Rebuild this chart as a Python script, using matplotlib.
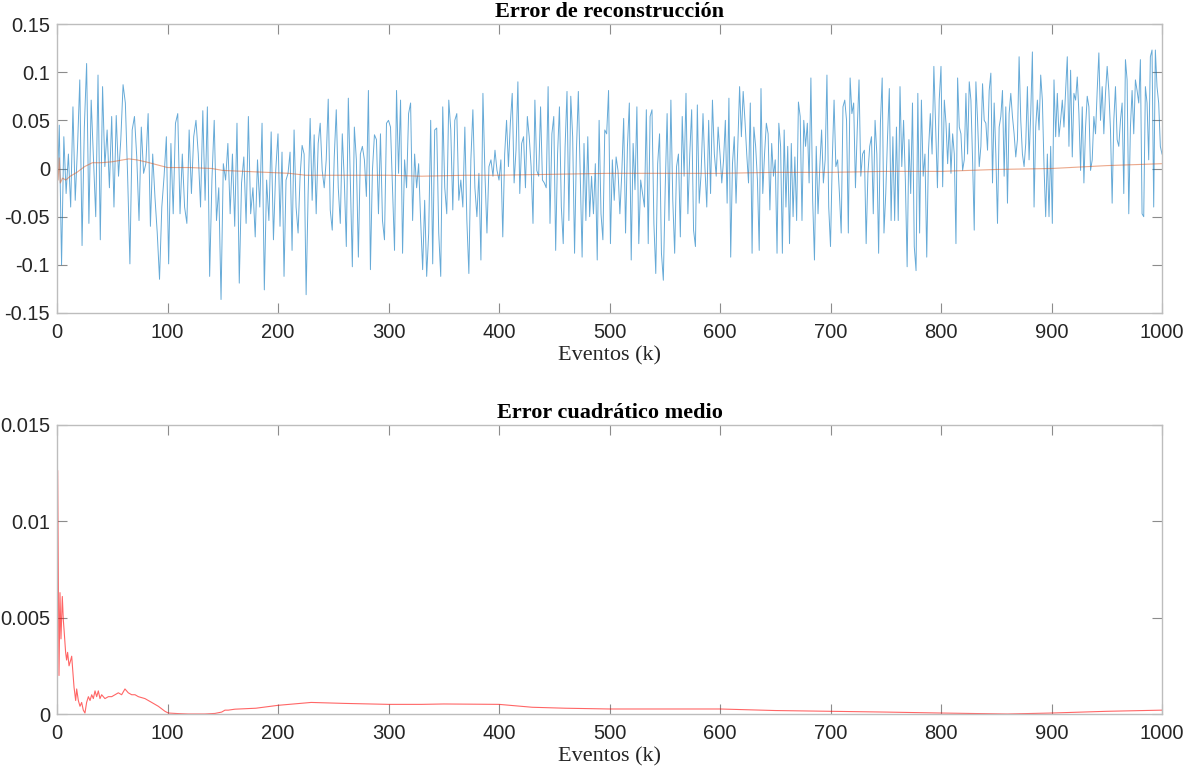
import numpy as np
import matplotlib
matplotlib.use("Agg")
import matplotlib.pyplot as plt

# ---------------- data ----------------
# reconstruction error, read in 200-event segments
err_0_200 = [-0.03, 0.045, -0.1, 0.033, -0.026, 0.015, -0.04, 0.064, -0.033, 0.022, 0.092, -0.08, 0.043, 0.109,
             -0.057, 0.071, 0.009, -0.05, 0.097, -0.074, 0.085, 0.002, 0.04, -0.02, 0.054, -0.04, 0.055, -0.008,
             0.03, 0.087, 0.068, -0.008, -0.099, 0.04, 0.054, 0.012, -0.054, 0.043, -0.005, 0.005, 0.057, -0.06,
             0.015, -0.03, -0.067, -0.115, -0.04, -0.008, 0.033, -0.099, 0.026, -0.047, 0.047, 0.057, -0.047,
             0.015, -0.04, -0.057, 0.04, -0.026, 0.033, 0.05, 0.015, -0.04, 0.06, -0.033, 0.064, -0.112, -0.012,
             0.05, -0.054, -0.02, -0.136, 0.005, -0.012, 0.026, -0.047, 0.015, -0.06, 0.047, -0.119, -0.015,
             0.012, -0.057, 0.054, -0.047, -0.02, -0.071, 0.009, -0.04, 0.047, -0.126, -0.012, -0.054, 0.038,
             -0.074, -0.002]
err_200_400 = [0.036, -0.06, 0.017, -0.112, -0.012, -0.005, 0.017, -0.085, 0.04, -0.04, -0.067, -0.008, 0.024,
               0.015, -0.131, -0.026, 0.052, -0.033, 0.035, -0.047, 0.026, 0.047, -0.002, -0.02, 0.009, 0.072,
               -0.043, -0.064, 0.012, 0.061, -0.02, -0.057, 0.036, -0.012, -0.081, 0.073, -0.012, -0.102, 0.043,
               0.009, -0.092, 0.015, 0.023, 0.009, -0.029, 0.081, -0.105, -0.002, 0.035, 0.03, -0.047, 0.036,
               -0.054, -0.074, 0.047, 0.05, 0.043, -0.02, -0.085, 0.081, -0.005, 0.071, -0.088, 0.009, -0.02,
               0.057, 0.068, -0.054, 0.015, -0.02, 0.005, -0.054, -0.105, -0.033, -0.112, -0.067, 0.05, -0.099,
               0.04, 0.042, -0.067, -0.112, 0.064, -0.02, -0.047, 0.071, 0.04, -0.043, 0.05, 0.057, -0.033,
               -0.012, -0.04, 0.043, -0.054, -0.109, 0.009, 0.061, -0.02, -0.05, -0.005, -0.095, 0.078, -0.005,
               -0.067, 0.002, 0.009, -0.008, 0.019, -0.002]
err_400_600 = [-0.012, 0.009, -0.071, 0.015, 0.05, 0.002, 0.047, 0.078, -0.015, 0.019, 0.09, -0.026, 0.026,
               0.033, -0.02, 0.054, 0.033, 0.002, -0.057, 0.071, -0.002, -0.008, 0.064, -0.012, -0.015, -0.02,
               0.085, -0.057, 0.036, 0.054, -0.085, 0.015, 0.064, -0.04, -0.078, 0.023, 0.08, -0.054, 0.075,
               0.033, -0.088, 0.019, 0.08, -0.005, -0.092, 0.026, -0.054, 0.033, -0.05, -0.008, -0.047, 0.005,
               -0.095, 0.05, -0.047, -0.074, 0.04, 0.036, 0.081, -0.078, 0.009, -0.033, 0.012, -0.002, -0.047,
               -0.005, 0.052, -0.067, 0.023, 0.068, -0.095, 0.026, -0.022, 0.064, -0.078, -0.012, -0.026, -0.04,
               0.061, -0.078, 0.054, 0.061, -0.057, -0.109, 0.005, 0.036, -0.088, -0.116, -0.02, 0.057, -0.054,
               0.071, -0.033, -0.088, 0.002, 0.015, -0.071, 0.054, -0.008, 0.078, -0.047, 0.015, 0.061, -0.064,
               -0.081, 0.066, -0.036, -0.005, 0.057, 0.002, -0.04, 0.05, -0.026, 0.071, 0.015, -0.008, 0.043]
err_600_800 = [0.015, -0.015, 0.009, 0.05, -0.036, 0.073, -0.092, 0.005, 0.033, -0.036, 0.026, 0.085, 0.033,
               0.08, 0.05, 0.015, -0.015, 0.068, -0.088, 0.043, 0.023, -0.012, -0.085, 0.083, -0.026, 0.015,
               0.047, 0.036, -0.043, 0.026, -0.008, 0.009, -0.088, 0.047, 0.023, -0.088, 0.04, -0.04, 0.023,
               -0.078, 0.026, -0.05, 0.012, -0.054, 0.069, 0.054, -0.054, 0.05, 0.023, 0.047, -0.015, 0.094,
               -0.033, -0.095, 0.023, -0.047, 0.002, 0.04, -0.015, 0.009, 0.097, -0.04, -0.081, 0.009, 0.071,
               0.002, 0.009, -0.026, -0.067, 0.064, 0.071, 0.05, -0.067, 0.094, 0.057, 0.068, -0.02, 0.04,
               0.092, -0.008, 0.015, 0.019, -0.078, -0.005, 0.023, 0.033, -0.047, 0.05, 0.015, -0.088, 0.047,
               0.094, -0.067, -0.026, 0.033, 0.083, -0.054, 0.033, -0.054, 0.043, -0.054, 0.085, 0.002, 0.05,
               -0.012, -0.102, 0.03, -0.026, 0.068, -0.081, -0.106, 0.078, -0.067, 0.071, -0.008, 0.015, -0.092,
               0.019, 0.057, 0.015, 0.106, 0.043, -0.02, 0.071]
err_800_1000 = [0.106, -0.019, 0.071, 0.047, 0.005, 0.047, -0.005, 0.036, 0.015, -0.078, 0.094, 0.043, 0.036,
                -0.002, 0.009, 0.078, 0.015, 0.09, 0.071, 0.009, -0.064, 0.09, 0.05, 0.002, 0.023, 0.088, 0.05,
                0.047, 0.019, 0.081, 0.099, -0.015, 0.068, 0.015, -0.057, 0.043, 0.054, 0.081, -0.008, 0.064,
                -0.036, 0.057, 0.078, 0.054, 0.036, 0.012, 0.03, 0.116, 0.05, 0.015, 0.002, 0.026, 0.085, 0.009,
                0.057, 0.121, -0.04, 0.043, 0.071, 0.04, 0.097, 0.071, 0.002, -0.05, 0.015, -0.05, 0.023, -0.057,
                0.092, 0.033, 0.078, 0.033, 0.05, 0.071, 0.043, 0.081, 0.116, 0.023, 0.102, 0.012, 0.078, 0.071,
                0.095, 0.057, -0.002, 0.064, -0.015, 0.043, 0.075, 0.064, -0.002, 0.009, 0.054, 0.036, 0.081,
                0.12, 0.05, 0.085, 0.036, 0.078, 0.106, 0.081, 0.04, -0.036, 0.05, 0.085, 0.03, 0.023, 0.05,
                0.068, -0.026, 0.113, 0.092, -0.047, 0.043, 0.081, 0.036, 0.092, 0.081, 0.068, 0.113, -0.047,
                -0.05, 0.085, 0.068, 0.009, 0.116, 0.123, -0.04, 0.123, 0.085, 0.068, 0.023, 0.015]
segment_edges = [0, 200, 400, 600, 800, 1000]

# running mean of the error (orange curve)
mean_x = [0, 1, 2, 3, 5, 8, 12, 18, 25, 32, 40, 50, 60, 65, 72, 80, 90, 100, 120, 140, 150, 170, 190, 210,
          225, 250, 300, 330, 370, 400, 450, 500, 550, 600, 650, 700, 750, 800, 850, 900, 950, 1000]
mean_y = [0.0, -0.012, 0.011, -0.015, -0.01, -0.012, -0.008, -0.004, 0.002, 0.006, 0.006, 0.007, 0.009,
          0.01, 0.009, 0.007, 0.004, 0.001, 0.001, 0.0, -0.002, -0.003, -0.004, -0.005, -0.007, -0.007,
          -0.007, -0.008, -0.007, -0.007, -0.006, -0.005, -0.005, -0.005, -0.004, -0.004, -0.003, -0.003,
          -0.001, 0.0, 0.003, 0.005]

# mean squared error (red curve)
mse_x = [0, 0.6, 1.8, 2.7, 3.6, 4.8, 5.7, 6.6, 7.8, 8.7, 9.6, 10.9, 12.4, 13.3, 14.2, 15.4, 16.9, 17.8, 19.3,
         20.8, 22.3, 23.8, 25.3, 26.8, 28.4, 29.9, 31.4, 32.9, 34.4, 35.9, 37.4, 38.9, 40.4, 43.4, 46.5, 49.5,
         52.5, 55.5, 58.5, 61.5, 64.5, 67.6, 70.6, 73.6, 79.6, 85.7, 91.7, 97.7, 100.7, 109.8, 118.8, 133.9,
         143, 149, 152, 155, 161, 180, 200, 230, 260, 300, 330, 350, 400, 410, 430, 460, 500, 600, 650, 700,
         750, 800, 860, 900, 950, 1000]
mse_y = [0.0, 0.01264, 0.002, 0.0063, 0.0039, 0.0061, 0.0049, 0.0042, 0.0032, 0.0028, 0.0032, 0.0025,
         0.0028, 0.003, 0.0023, 0.0014, 0.0007, 0.0013, 0.0007, 0.0004, 0.0006, 0.0002, 0.00005, 0.0006,
         0.0009, 0.0007, 0.001, 0.0008, 0.0012, 0.0009, 0.0012, 0.0008, 0.001, 0.0008, 0.0009, 0.0009,
         0.001, 0.0011, 0.001, 0.0013, 0.0011, 0.001, 0.001, 0.0009, 0.0008, 0.0006, 0.0004, 0.00014,
         0.00005, 0.00002, 0.0, 0.0, 0.00003, 0.0001, 0.0002, 0.0002, 0.00025, 0.0003, 0.00045, 0.0006,
         0.00055, 0.0005, 0.0005, 0.00052, 0.0005, 0.00045, 0.00035, 0.0003, 0.00026, 0.00026, 0.00018,
         0.00014, 0.0001, 0.00005, 0.0, 0.00005, 0.00014, 0.0002]

# ---------------- assemble the error series ----------------
segments = [err_0_200, err_200_400, err_400_600, err_600_800, err_800_1000]
err_x, err_y = [], []
for i, seg in enumerate(segments):
    last = i == len(segments) - 1
    xs = np.linspace(segment_edges[i], segment_edges[i + 1], len(seg), endpoint=last)
    err_x.extend(xs)
    err_y.extend(seg)

# ---------------- styling ----------------
SANS = ["Liberation Sans", "DejaVu Sans"]
SERIF = ["Liberation Serif", "DejaVu Serif"]
TICK_C = "#262626"
BOX_C = "#bdbdbd"

plt.rcParams["font.family"] = SANS

fig = plt.figure(figsize=(11.83, 7.71), dpi=100)
ax1 = fig.add_axes([57 / 1183, 1 - 313 / 771, 1105 / 1183, 289 / 771])
ax2 = fig.add_axes([57 / 1183, 1 - 714 / 771, 1105 / 1183, 289 / 771])

ax1.plot(err_x, err_y, color="#0072BD", lw=0.7, alpha=0.6)
ax1.plot(mean_x, mean_y, color="#D95319", lw=0.8, alpha=0.5)
ax2.plot(mse_x, mse_y, color="#FF0000", lw=0.8, alpha=0.6)

ax1.set_xlim(0, 1000)
ax1.set_ylim(-0.15, 0.15)
ax1.set_yticks([-0.15, -0.1, -0.05, 0, 0.05, 0.1, 0.15])
ax1.set_yticklabels(["-0.15", "-0.1", "-0.05", "0", "0.05", "0.1", "0.15"])
ax2.set_xlim(0, 1000)
ax2.set_ylim(0, 0.015)
ax2.set_yticks([0, 0.005, 0.01, 0.015])
ax2.set_yticklabels(["0", "0.005", "0.01", "0.015"])

titles = ["Error de reconstrucción", "Error cuadrático medio"]
for ax, t in zip([ax1, ax2], titles):
    ax.set_xticks(np.arange(0, 1001, 100))
    ax.tick_params(direction="in", length=7.5, width=0.8, color="#8c8c8c",
                   top=True, right=True, labelsize=14.5, labelcolor=TICK_C)
    ax.tick_params(axis="x", pad=7)
    ax.tick_params(axis="y", pad=5)
    for s in ax.spines.values():
        s.set_color(BOX_C)
        s.set_linewidth(1.0)
    ax.set_title(t, fontfamily=SERIF, fontweight="bold", fontsize=16, color="#000000", pad=5)
    ax.set_xlabel("Eventos (k)", fontfamily=SERIF, fontsize=16, color=TICK_C, labelpad=3)

fig.savefig("out.png", dpi=100)
